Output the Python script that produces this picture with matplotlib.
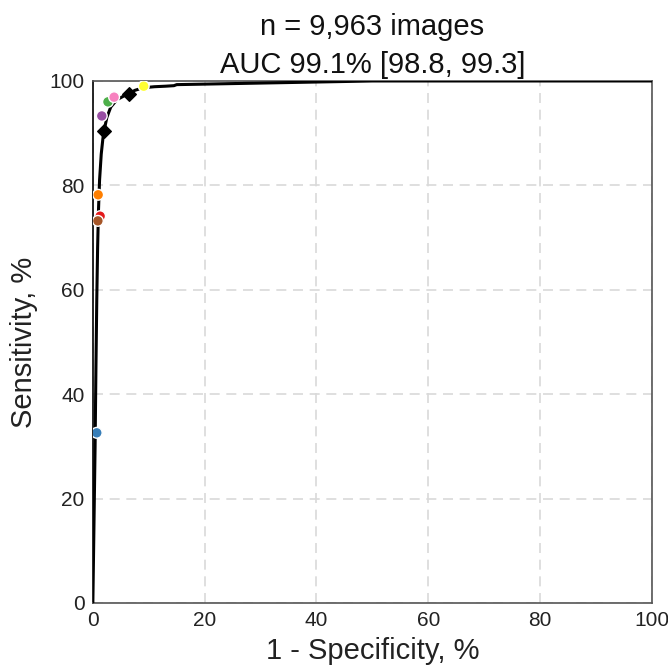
import matplotlib
matplotlib.use("Agg")
import matplotlib.pyplot as plt

plt.rcParams['font.family'] = ['Liberation Sans', 'DejaVu Sans']

# ROC curve (1-specificity %, sensitivity %)
roc_fpr = [0, 0.2, 0.4, 0.55, 0.7, 0.85, 1.0, 1.2, 1.5, 1.8, 2.0, 2.5, 3.2, 4.3, 5.5, 6.4, 7.5, 9.0, 11, 13, 14.5, 15, 20, 25, 30, 35, 40, 45, 50, 100]
roc_tpr = [0, 15, 30, 45, 58, 68, 75, 81, 86, 89, 90.4, 93, 95, 96.4, 97.1, 97.5, 98.2, 98.7, 98.9, 99.0, 99.1, 99.3, 99.4, 99.5, 99.6, 99.7, 99.8, 99.9, 100, 100]

# Operating points on curve (black diamonds)
op_fpr = [2.0, 6.4]
op_tpr = [90.4, 97.5]

# Reader points
reader_fpr = [0.7, 1.3, 0.9, 0.95, 1.6, 2.7, 3.8, 9.1]
reader_tpr = [32.6, 74.1, 73.2, 78.2, 93.3, 96.0, 96.9, 99.0]
reader_colors = ['#377eb8', '#e41a1c', '#a65628', '#ff7f00', '#984ea3', '#4daf4a', '#f781bf', '#ffff33']

fig = plt.figure(figsize=(6.68, 6.72), dpi=100)
ax = fig.add_axes([0.139, 0.1027, 0.837, 0.7768])

ax.plot(roc_fpr, roc_tpr, color='black', lw=2.2, zorder=3)
ax.scatter(op_fpr, op_tpr, marker='D', s=48, color='black', zorder=4)
ax.scatter(reader_fpr, reader_tpr, s=60, c=reader_colors, edgecolors='white', linewidths=1.0, zorder=5)

ax.set_xlim(0, 100)
ax.set_ylim(0, 100)
ax.set_xticks([0, 20, 40, 60, 80, 100])
ax.set_yticks([0, 20, 40, 60, 80, 100])
ax.grid(True, color='#d9d9d9', linestyle=(0, (6, 4)), lw=1.2)
ax.set_axisbelow(True)
for s in ax.spines.values():
    s.set_color('#555555')
    s.set_linewidth(1.2)
ax.spines['left'].set_color('black')
ax.tick_params(axis='both', labelsize=15, length=0, pad=6, colors='#222222')

ax.set_xlabel('1 - Specificity, %', fontsize=21, color='#222222', labelpad=5)
ax.set_ylabel('Sensitivity, %', fontsize=21, color='#222222', labelpad=8)
ax.set_title('n = 9,963 images\nAUC 99.1% [98.8, 99.3]', fontsize=21, color='#111111', pad=6, linespacing=1.45)

fig.savefig('out.png', dpi=100)
